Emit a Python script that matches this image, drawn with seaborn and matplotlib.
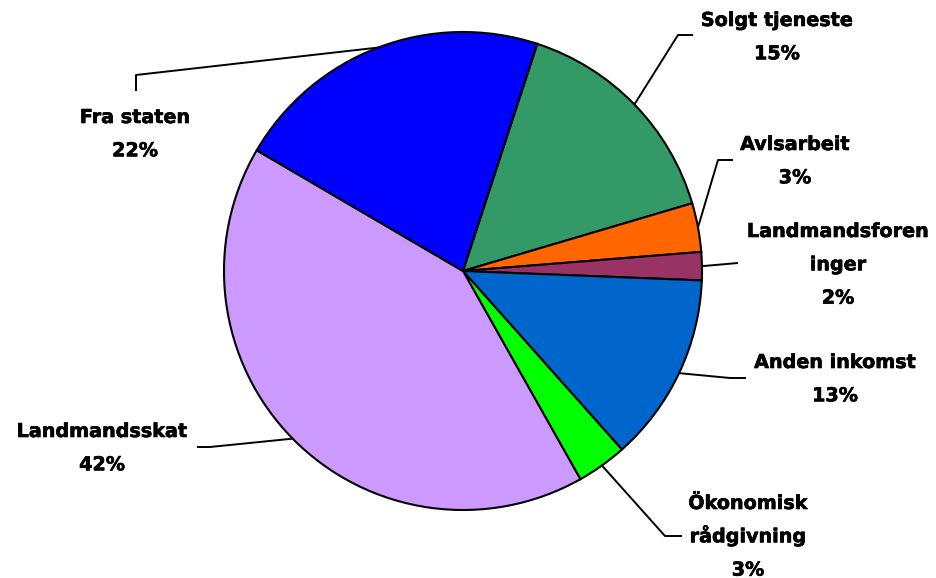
import numpy as np
import matplotlib
matplotlib.use("Agg")
import matplotlib.pyplot as plt
import matplotlib.patheffects as pe
import seaborn as sns

# ---- data (clockwise order starting from the Solgt tjeneste slice) ----
categories = ["Solgt tjeneste", "Avlsarbeit", "Landmandsforeninger", "Anden inkomst",
              "Ökonomisk rådgivning", "Landmandsskat", "Fra staten"]
label_lines = [["Solgt tjeneste"], ["Avlsarbeit"], ["Landmandsforen", "inger"],
               ["Anden inkomst"], ["Ökonomisk", "rådgivning"], ["Landmandsskat"],
               ["Fra staten"]]
values = [15.4, 3.3, 1.9, 12.8, 3.4, 41.6, 21.6]
colors = ["#339966", "#FF6600", "#993366", "#0066CC", "#00FF00", "#CC99FF", "#0000FF"]

# ---- layout (pixels in a 936x578 canvas) ----
W, H = 936, 578
CX, CY, R = 463, 271, 239
start_angle = 71.9
# (elbow, end) of leader line and first-line baseline centre of label
leader_pts = [((678, 35), (693, 35)),
              ((718, 160), (733, 160)),
              ((738, 263), (738, 263)),
              ((730, 378), (746, 378)),
              ((665, 536), (682, 536)),
              ((210, 447), (197, 447)),
              ((136, 75), (136, 91))]
label_pos = [(777, 26), (795, 150), (838, 237), (835, 368), (748, 509), (102, 437), (135, 123)]
line_gap = 33.3

sns.set_theme(style="white")
plt.rcParams["font.family"] = ["DejaVu Sans"]

fig = plt.figure(figsize=(W / 100, H / 100), dpi=100)
ax = fig.add_axes([0, 0, 1, 1])

def px(p):
    return ((p[0] - CX) / R, (CY - p[1]) / R)

wedges, _ = ax.pie(values, colors=colors, startangle=start_angle, counterclock=False,
                   radius=1.0, center=(0, 0),
                   wedgeprops=dict(edgecolor="black", linewidth=1.5))

heavy = [pe.withStroke(linewidth=0.45, foreground="black")]
for w, (elbow, end), (lx, ly), lines, v in zip(wedges, leader_pts, label_pos, label_lines, values):
    mid = np.deg2rad((w.theta1 + w.theta2) / 2)
    sx, sy = np.cos(mid), np.sin(mid)
    ex, ey = px(elbow)
    fx, fy = px(end)
    ax.plot([sx, ex, fx], [sy, ey, fy], color="black", lw=1.4, solid_capstyle="butt", zorder=3)
    all_lines = lines + ["%.0f%%" % v]
    for i, t in enumerate(all_lines):
        tx, ty = px((lx, ly + i * line_gap))
        ax.text(tx, ty, t, ha="center", va="baseline", fontsize=13.8,
                fontweight="bold", color="black", path_effects=heavy)

ax.set_xlim(-CX / R, (W - CX) / R)
ax.set_ylim(-(H - CY) / R, CY / R)
ax.set_aspect("auto")
ax.axis("off")

fig.savefig("out.png", dpi=100, facecolor="white")
